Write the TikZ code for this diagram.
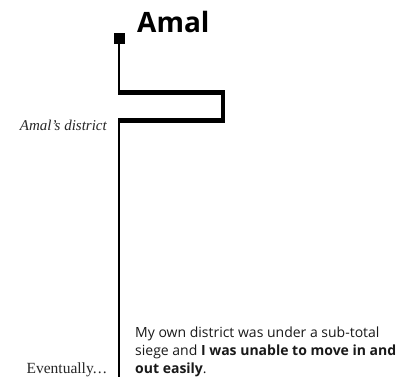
\documentclass[tikz,border=0pt]{standalone}
\usepackage{fontspec}
\setmainfont{Liberation Serif}
\newfontfamily\bodyfont{Open Sans}
\begin{document}
\begin{tikzpicture}[x=1pt,y=-1pt,
  thinline/.style={line width=1.3pt},
  thickline/.style={line width=4.5pt},
  lbl/.style={inner sep=0pt},
]
\useasboundingbox (0,0) rectangle (419,382);
\node[fill=black, minimum size=11pt, inner sep=0pt] (sq) at (119,38.5) {};
\node[lbl, anchor=base west, font=\bodyfont\bfseries\fontsize{28}{30}\selectfont] (title) at (137,33) {Amal};
\coordinate (a) at (119,92.5);
\coordinate (b) at (223,92.5);
\coordinate (c) at (223,120.5);
\coordinate (d) at (119,120.5);
\coordinate (e) at (119,377);
\draw[thinline] (sq.south) -- (a);
\draw[thickline, line join=miter] ([xshift=-0.65pt]a) -- (b) -- (c) -- ([xshift=-0.65pt]d);
\draw[thinline] ([yshift=-2pt]d) -- (e);
\node[lbl, anchor=base east, text=black!85, font=\itshape\fontsize{15}{17}\selectfont] (dist) at (107,131) {Amal’s district};
\node[lbl, anchor=base east, text=black!85, font=\fontsize{15.5}{17}\selectfont] (ev) at (107,373) {Eventually.\kern1.2pt.\kern1.2pt.};
\node[lbl, anchor=base west, align=left, text=black!90, font=\bodyfont\fontsize{14}{18}\selectfont] (txt) at (135,373)
  {My own district was under a sub-total\\siege and \textbf{I was unable to move in and}\\\textbf{out easily}.};
\end{tikzpicture}
\end{document}
